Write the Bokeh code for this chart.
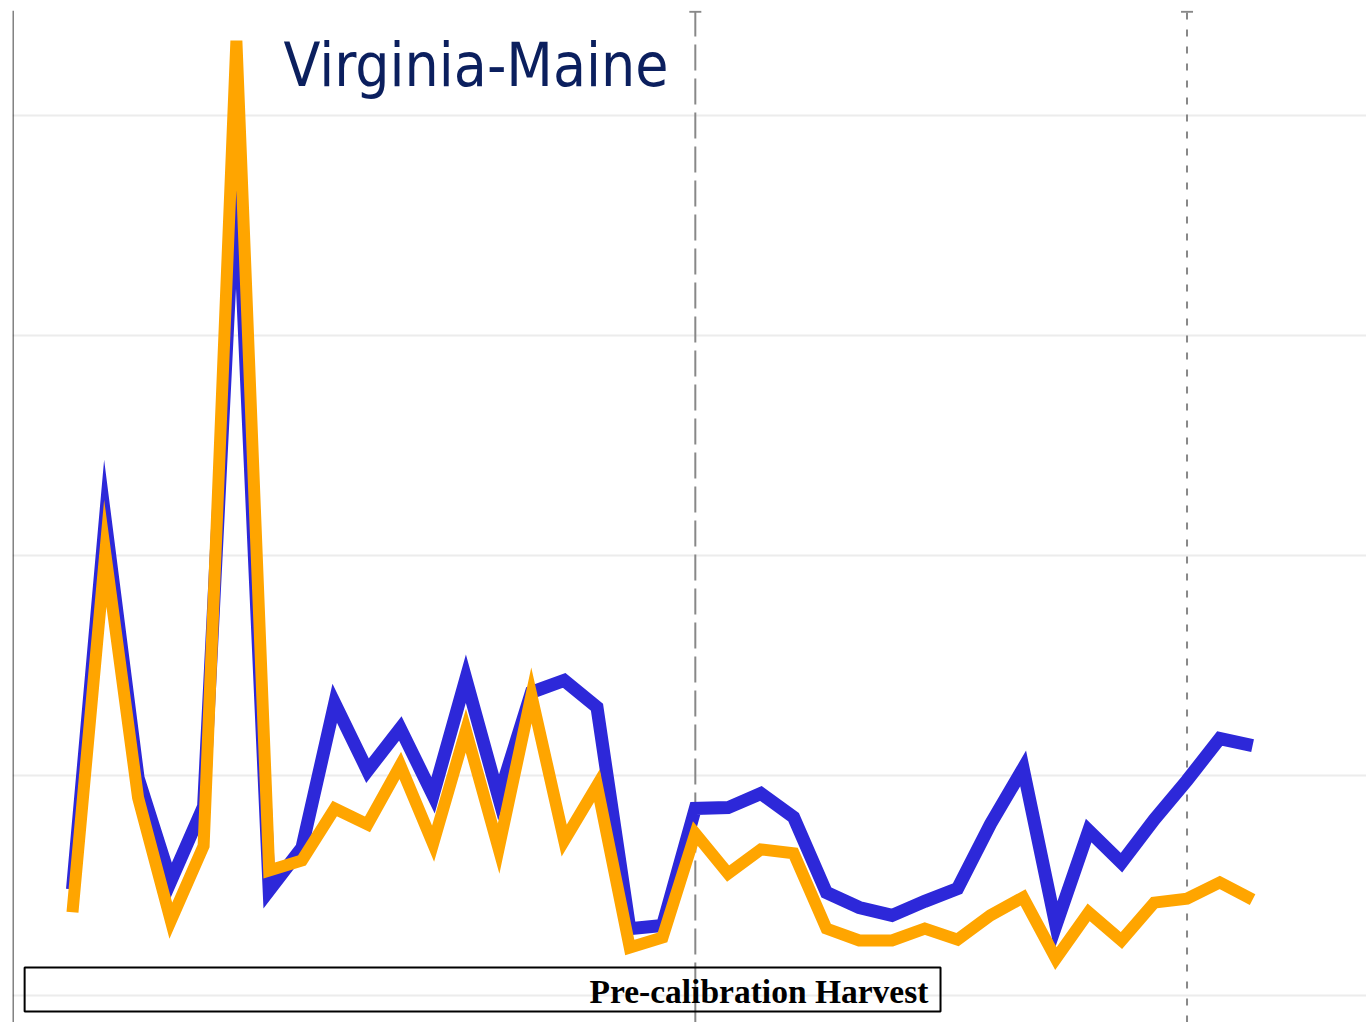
from bokeh.plotting import figure
from bokeh.models import Range1d, FixedTicker, Label, BoxAnnotation, Span
from bokeh.embed import file_html
from bokeh.resources import INLINE

# ---- data ----
years = list(range(1981, 2018))
blue_vals = [2.41, 10.8, 4.95, 2.6, 4.3, 19.2, 2.39, 3.36, 6.64, 5.11,
             6.07, 4.55, 7.2, 4.5, 6.89, 7.16, 6.55, 1.52, 1.59, 4.25,
             4.27, 4.59, 4.05, 2.34, 2.0, 1.82, 2.14, 2.43, 3.89, 5.16,
             1.59, 3.75, 3.02, 4.0, 4.89, 5.84, 5.68]
orange_vals = [1.89, 10.05, 4.5, 1.7, 3.4, 21.7, 2.84, 3.07, 4.25, 3.89,
               5.23, 3.45, 6.02, 3.34, 6.82, 3.52, 4.77, 1.09, 1.32, 3.68,
               2.77, 3.32, 3.23, 1.52, 1.25, 1.25, 1.52, 1.27, 1.82, 2.23,
               0.84, 1.89, 1.25, 2.11, 2.2, 2.57, 2.18]
grid_ticks = [0, 5, 10, 15, 20]
event_years = [2000, 2015]
event_dashes = ["26 8", "7 10"]
title_text = "Virginia-Maine"
box_text = "Pre-calibration Harvest"

x0 = years[0]
y_lo, y_hi = -0.614, 22.386
x_lo, x_hi = x0 - 1.83, x0 + 39.475

p = figure(width=1366, height=1022, output_backend="svg", toolbar_location=None,
           x_range=Range1d(x_lo, x_hi), y_range=Range1d(y_lo, y_hi),
           min_border_left=12, min_border_right=0, min_border_top=10, min_border_bottom=0)
p.outline_line_color = None
p.background_fill_color = "white"
p.xaxis.visible = False
p.yaxis.visible = False
p.xgrid.visible = False
p.ygrid.ticker = FixedTicker(ticks=grid_ticks)
p.ygrid.grid_line_color = "#ececec"
p.ygrid.grid_line_width = 2

p.add_layout(Span(location=x_lo + 0.015, dimension="height", line_color="black", line_width=1))

# event lines
cap_y = y_hi - 0.03
for ev, dash in zip(event_years, event_dashes):
    p.segment(x0=[ev], y0=[y_lo], x1=[ev], y1=[cap_y], line_color="#888888",
              line_width=2, line_dash=dash)
p.dash(x=event_years, y=[cap_y] * len(event_years), size=12, angle=0,
       line_color="#888888", line_width=2)

p.line(years, blue_vals, line_color="#2d28d9", line_width=13, line_join="miter")
p.line(years, orange_vals, line_color="#ffa500", line_width=12, line_join="miter")

p.add_layout(Label(x=x0 + 6.44, y=21.15, text=title_text, text_font="DejaVu Sans Condensed",
                   text_font_size="60px", text_color="#0b1f5e", text_align="left",
                   text_baseline="alphabetic"))

p.add_layout(BoxAnnotation(left=x0 - 1.46, right=x0 + 26.48, bottom=-0.364, top=0.636,
                           fill_alpha=0, line_color="black", line_alpha=1, line_width=2))
p.add_layout(Label(x=x0 + 26.11, y=0.1, text=box_text, text_font="Liberation Serif",
                   text_font_style="bold", text_font_size="33.5px", text_color="black",
                   text_align="right", text_baseline="alphabetic"))

open("out.html", "w").write(file_html(p, INLINE))
